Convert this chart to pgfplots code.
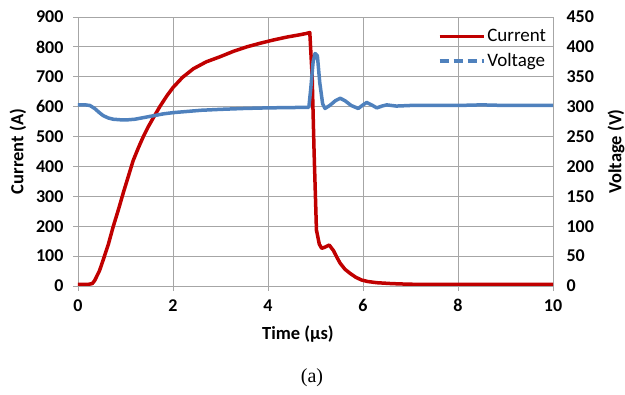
\documentclass[border=0pt]{standalone}
\usepackage{pgfplots}
\pgfplotsset{compat=1.18}
\usepackage{fontspec}
\setmainfont{Carlito}
\newfontfamily\capfont{Liberation Serif}
\definecolor{cred}{HTML}{C00000}
\definecolor{cblue}{HTML}{4F81BD}
\definecolor{cgrid}{HTML}{A6A6A6}
\begin{document}
\begin{tikzpicture}
\pgfplotsset{
  common/.style={
    scale only axis, width=475pt, height=269pt,
    at={(0pt,0pt)}, anchor=south west,
    xmin=0, xmax=10,
    /pgf/number format/assume math mode=true,
    tick label style={font=\fontsize{18}{21}\selectfont\bfseries},
    label style={font=\fontsize{18.5}{22}\selectfont\bfseries},
  }
}
\begin{axis}[common,
  ymin=0, ymax=900,
  xtick={0,2,...,10}, ytick={0,100,...,900},
  grid=major, grid style={cgrid, line width=0.8pt},
  axis line style={cgrid, line width=0.8pt},
  axis x line*=bottom, axis y line*=left,
  tick style={cgrid, line width=0.8pt}, tick align=outside, major tick length=5pt,
  yticklabel style={xshift=-6pt},
  xticklabel style={yshift=-5pt},
  xlabel={Time (μs)}, ylabel={Current (A)},
  x label style={at={(axis description cs:0.463,-0.178)}, anchor=center},
  y label style={at={(axis description cs:-0.1263,0.5)}, anchor=center},
  legend style={draw=none, fill=none, at={(axis description cs:0.755,0.965)}, anchor=north west,
    font=\fontsize{19}{22}\selectfont, row sep=6pt, inner sep=1pt},
  legend cell align=left,
  legend image code/.code={\draw[#1] (0pt,0pt) -- (44pt,0pt);},
]
\addplot[cred, line width=3.5pt, line join=round] coordinates {
(0,5) (0.1,5) (0.2,5) (0.3,8) (0.35,18) (0.45,50) (0.53,87) (0.64,140) (0.74,198) (0.85,255) (0.95,310) (1.06,367) (1.16,419) (1.27,462) (1.37,498) (1.48,533) (1.59,564) (1.73,602) (1.87,636) (2.0,664) (2.2,698) (2.43,727) (2.7,750) (2.99,767) (3.27,785) (3.55,800) (3.83,812) (4.11,823) (4.4,833) (4.65,840) (4.81,845) (4.88,848) (4.93,700) (4.97,450) (5.02,187) (5.08,140) (5.13,126) (5.2,130) (5.29,137) (5.38,118) (5.45,96) (5.52,76) (5.62,56) (5.73,42) (5.85,29) (5.97,20) (6.1,15) (6.29,11) (6.6,8) (6.95,6) (7.5,5) (8.5,5) (10,5)
};
\addlegendentry{Current}
\addlegendimage{cblue, line width=3.5pt, dash pattern=on 9pt off 5pt}
\addlegendentry{Voltage}
\end{axis}
\begin{axis}[common,
  ymin=0, ymax=450,
  ytick={0,50,...,450},
  axis x line=none, axis y line*=right,
  axis line style={draw=none},
  major tick length=0pt,
  yticklabel style={xshift=10pt},
  ylabel={Voltage (V)},
  y label style={at={(axis description cs:1.1326,0.5)}, anchor=center, rotate=0},
]
\addplot[cblue, line width=3.5pt, line join=round] coordinates {
(0,303) (0.15,303) (0.25,302) (0.35,297) (0.45,290) (0.53,285) (0.64,281) (0.74,279) (0.9,278) (1.05,278) (1.2,279) (1.4,282) (1.6,285) (1.8,288) (2.0,290) (2.3,292) (2.6,294) (3.0,295.5) (3.5,297) (4.0,298) (4.5,298.5) (4.86,299) (4.9,330) (4.95,375) (4.99,389) (5.04,385) (5.09,340) (5.15,305) (5.2,297) (5.3,302) (5.42,310) (5.52,314) (5.62,310) (5.75,302) (5.9,297) (6.0,303) (6.08,307) (6.18,303) (6.29,298) (6.4,301) (6.5,303) (6.7,301) (7.0,302) (7.5,302) (8.0,302) (8.5,303) (9.0,302) (9.5,302) (10,302)
};
\end{axis}
\node[font=\capfont\fontsize{20}{24}\selectfont] at (234pt,-92pt) {(a)};
\pgfresetboundingbox
\path[use as bounding box] (-78pt,-109pt) rectangle (547pt,286pt);
\end{tikzpicture}
\end{document}
